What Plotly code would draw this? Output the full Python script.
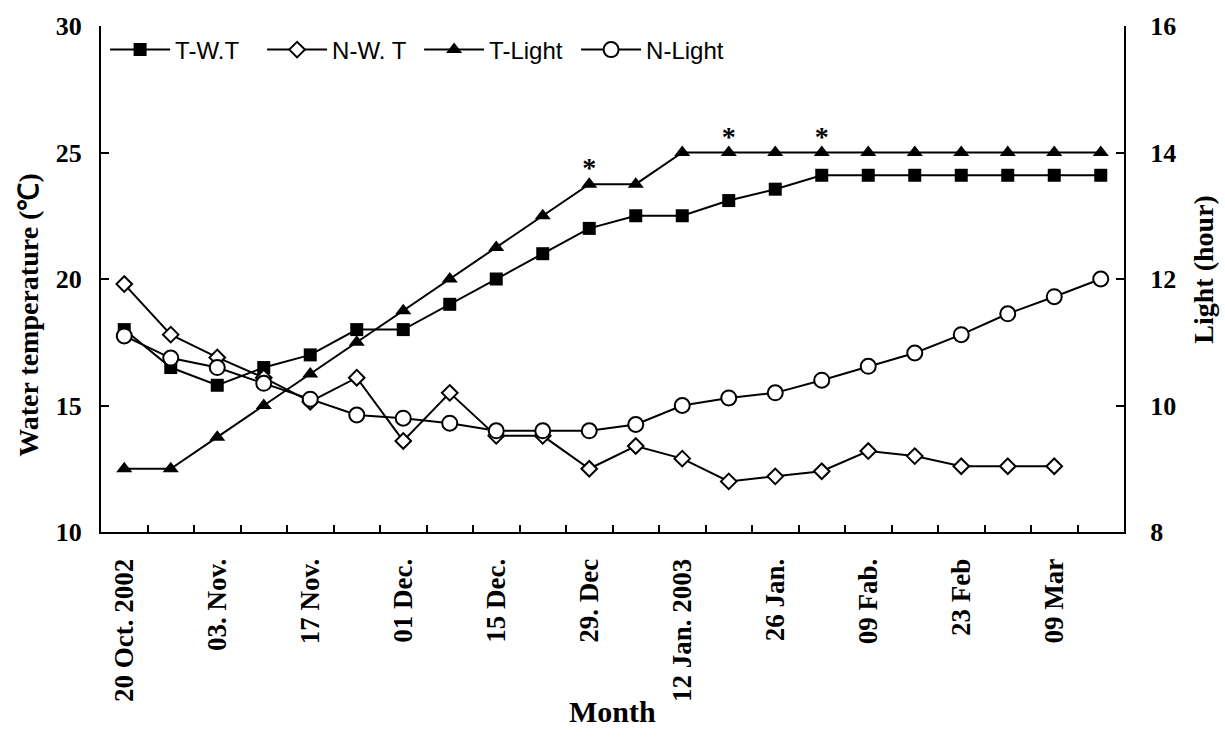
import plotly.graph_objects as go

# Weekly sampling dates (category axis) and the subset shown as tick labels
weeks = ["20 Oct. 2002", "27 Oct.", "03. Nov.", "10 Nov.", "17 Nov.", "24 Nov.",
         "01 Dec.", "08 Dec.", "15 Dec.", "22 Dec.", "29. Dec", "05 Jan.",
         "12 Jan. 2003", "19 Jan.", "26 Jan.", "02 Feb.", "09 Fab.", "16 Feb.",
         "23 Feb", "02 Mar.", "09 Mar", "16 Mar."]
tick_text = [w if i % 2 == 0 else "" for i, w in enumerate(weeks)]

# Water temperature (°C), left axis
t_wt = [18.0, 16.5, 15.8, 16.5, 17.0, 18.0, 18.0, 19.0, 20.0, 21.0, 22.0,
        22.5, 22.5, 23.1, 23.55, 24.1, 24.1, 24.1, 24.1, 24.1, 24.1, 24.1]
n_wt = [19.8, 17.8, 16.9, 16.1, 15.15, 16.1, 13.6, 15.5, 13.8, 13.8, 12.5,
        13.4, 12.9, 12.0, 12.2, 12.4, 13.2, 13.0, 12.6, 12.6, 12.6, None]

# Photoperiod (hours), right axis
t_light = [9.0, 9.0, 9.5, 10.0, 10.5, 11.0, 11.5, 12.0, 12.5, 13.0, 13.5,
           13.5, 14.0, 14.0, 14.0, 14.0, 14.0, 14.0, 14.0, 14.0, 14.0, 14.0]
n_light = [11.1, 10.75, 10.6, 10.35, 10.1, 9.85, 9.8, 9.72, 9.6, 9.6, 9.6,
           9.7, 10.0, 10.12, 10.2, 10.4, 10.62, 10.83, 11.12, 11.45, 11.72, 12.0]

# Weeks flagged as significant on the T-Light series
star_weeks = [10, 13, 15]

serif = "Liberation Serif"
sans = "Liberation Sans"
line = dict(color="black", width=2)

fig = go.Figure()
fig.add_trace(go.Scatter(
    x=weeks, y=t_wt, name="T-W.T", mode="lines+markers", line=line,
    marker=dict(symbol="square", size=13, color="black")))
fig.add_trace(go.Scatter(
    x=weeks, y=n_wt, name="N-W. T", mode="lines+markers", line=line,
    marker=dict(symbol="diamond", size=12, color="white",
                line=dict(color="black", width=2))))
fig.add_trace(go.Scatter(
    x=weeks, y=t_light, name="T-Light", mode="lines+markers", line=line,
    marker=dict(symbol="triangle-up", size=14, color="black"), yaxis="y2"))
fig.add_trace(go.Scatter(
    x=weeks, y=n_light, name="N-Light", mode="lines+markers", line=line,
    marker=dict(symbol="circle", size=15, color="white",
                line=dict(color="black", width=2)), yaxis="y2"))
fig.add_trace(go.Scatter(
    x=[weeks[i] for i in star_weeks], y=[t_light[i] for i in star_weeks],
    mode="text", text=["*"] * len(star_weeks), textposition="top center",
    textfont=dict(family=serif, size=28, color="black", weight="bold"),
    yaxis="y2", showlegend=False, hoverinfo="skip"))

tickfont = dict(family=serif, size=26, color="black", weight="bold")
xtickfont = dict(family=serif, size=27, color="black", weight="bold")
titlefont = dict(family=serif, size=28, color="black", weight="bold")

fig.update_layout(
    width=1225, height=740,
    margin=dict(l=101, r=101, t=22, b=208),
    paper_bgcolor="white", plot_bgcolor="white",
    showlegend=True,
    legend=dict(orientation="h", x=0.004, y=0.997, xanchor="left", yanchor="top",
                font=dict(family=sans, size=24, color="black"),
                bgcolor="rgba(0,0,0,0)", itemwidth=60, tracegroupgap=0,
                entrywidth=82, entrywidthmode="pixels"),
    xaxis=dict(
        type="category", categoryorder="array", categoryarray=weeks,
        tickmode="array", tickvals=weeks, ticktext=tick_text,
        tickson="boundaries", ticks="inside", ticklen=7, tickwidth=2,
        tickcolor="black", tickangle=-90, tickfont=xtickfont,
        ticklabelstandoff=14,
        showline=True, linecolor="black", linewidth=2, showgrid=False,
        zeroline=False, range=[-0.5, len(weeks) - 0.5]),
    yaxis=dict(
        range=[10, 30], dtick=5, ticks="inside", ticklen=8, tickwidth=2,
        tickcolor="black", tickfont=tickfont, ticklabelstandoff=12,
        showline=True, linecolor="black", linewidth=2, showgrid=False,
        zeroline=False),
    yaxis2=dict(
        range=[8, 16], dtick=2, overlaying="y", side="right",
        ticks="inside", ticklen=8, tickwidth=2, tickcolor="black",
        tickfont=tickfont, ticklabelstandoff=19,
        showline=True, linecolor="black", linewidth=2, showgrid=False,
        zeroline=False),
    annotations=[
        dict(text="Water temperature (℃)", textangle=-90, font=titlefont,
             xref="paper", yref="paper", x=-0.071, y=0.43,
             xanchor="center", yanchor="middle", showarrow=False),
        dict(text="Light (hour)", textangle=-90, font=titlefont,
             xref="paper", yref="paper", x=1.078, y=0.52,
             xanchor="center", yanchor="middle", showarrow=False),
        dict(text="Month", font=dict(family=serif, size=30, color="black",
                                     weight="bold"),
             xref="paper", yref="paper", x=0.5, y=-0.354,
             xanchor="center", yanchor="middle", showarrow=False),
    ],
)

fig.write_html("out.html")
